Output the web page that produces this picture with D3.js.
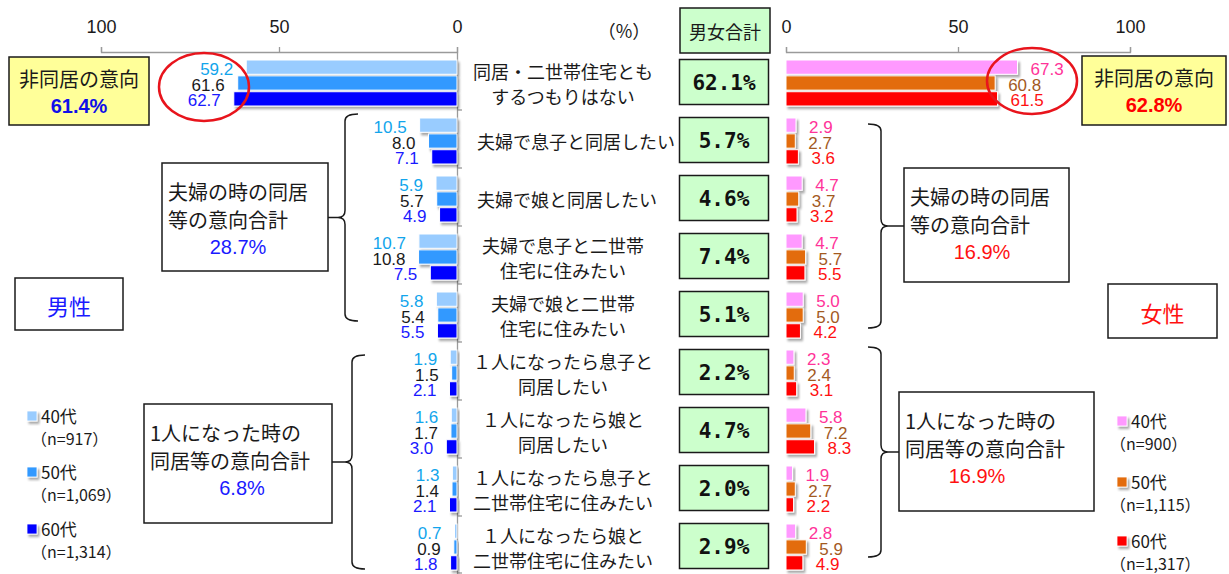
<!DOCTYPE html>
<html>
<head>
<meta charset="utf-8">
<script src="https://cdn.jsdelivr.net/npm/d3@7"></script>
<style>
  body { margin: 0; background: #fff; }
  svg { display: block; }
</style>
</head>
<body>
<svg id="chart" width="1229" height="574"></svg>
<script>
// Intention to live with children after retirement, by sex and age group (%)
const categories = [
  ["同居・二世帯住宅とも", "するつもりはない"],
  ["夫婦で息子と同居したい"],
  ["夫婦で娘と同居したい"],
  ["夫婦で息子と二世帯", "住宅に住みたい"],
  ["夫婦で娘と二世帯", "住宅に住みたい"],
  ["１人になったら息子と", "同居したい"],
  ["１人になったら娘と", "同居したい"],
  ["１人になったら息子と", "二世帯住宅に住みたい"],
  ["１人になったら娘と", "二世帯住宅に住みたい"]
];
const ageGroups = ["40代", "50代", "60代"];

const male40 = [59.2, 10.5, 5.9, 10.7, 5.8, 1.9, 1.6, 1.3, 0.7];
const male50 = [61.6, 8.0, 5.7, 10.8, 5.4, 1.5, 1.7, 1.4, 0.9];
const male60 = [62.7, 7.1, 4.9, 7.5, 5.5, 2.1, 3.0, 2.1, 1.8];

const female40 = [67.3, 2.9, 4.7, 4.7, 5.0, 2.3, 5.8, 1.9, 2.8];
const female50 = [60.8, 2.7, 3.7, 5.7, 5.0, 2.4, 7.2, 2.7, 5.9];
const female60 = [61.5, 3.6, 3.2, 5.5, 4.2, 3.1, 8.3, 2.2, 4.9];

const totalBoth = [62.1, 5.7, 4.6, 7.4, 5.1, 2.2, 4.7, 2.0, 2.9];

// group totals: non-coresidence, as a couple, when alone
const maleGroupTotals = [61.4, 28.7, 6.8];
const femaleGroupTotals = [62.8, 16.9, 16.9];

const maleSampleSizes = ["（n=917）", "（n=1,069）", "（n=1,314）"];
const femaleSampleSizes = ["（n=900）", "（n=1,115）", "（n=1,317）"];
const axisTicks = [0, 50, 100];

const maleBarColors = ["#99CCFF", "#3399FF", "#0000FF"];
const maleLabelColors = ["#12A5EC", "#1a1a1a", "#1a1aff"];
const femaleBarColors = ["#FF99FF", "#E36C0A", "#FF0000"];
const femaleLabelColors = ["#FF3399", "#A35A1F", "#FF1010"];

const JP = "'Noto Sans CJK JP', 'Noto Sans', sans-serif";
const NUM = "'Liberation Sans', Arial, sans-serif";

const svg = d3.select("#chart");

const defs = svg.append("defs");
defs.append("filter").attr("id", "barShadow")
  .attr("x", "-20%").attr("y", "-30%").attr("width", "160%").attr("height", "180%")
  .append("feDropShadow")
  .attr("dx", 2).attr("dy", 2.5).attr("stdDeviation", 1.3)
  .attr("flood-color", "#000").attr("flood-opacity", 0.35);

// scales
const xL = d3.scaleLinear().domain([0, 100]).range([457, 101]);
const xR = d3.scaleLinear().domain([0, 100]).range([786, 1130]);
const y = d3.scaleBand().domain(d3.range(categories.length)).range([52, 574]);
const sub = d3.scaleBand().domain(d3.range(ageGroups.length)).range([8, 54]).paddingInner(0.1);

// top axes
function styleAxis(g) {
  g.select(".domain").attr("stroke", "#9a9a9a").attr("stroke-width", 1.3);
  g.selectAll(".tick line").attr("stroke", "#9a9a9a").attr("stroke-width", 1.3);
  g.selectAll(".tick text").attr("font-family", NUM).attr("font-size", 18).attr("fill", "#1a1a1a");
}
svg.append("g").attr("transform", "translate(0,52)")
  .call(d3.axisTop(xL).tickValues(axisTicks).tickSize(5).tickSizeOuter(5).tickPadding(14).tickFormat(d3.format("d")))
  .call(styleAxis);
svg.append("g").attr("transform", "translate(0,52)")
  .call(d3.axisTop(xR).tickValues(axisTicks).tickSize(5).tickSizeOuter(5).tickPadding(14).tickFormat(d3.format("d")))
  .call(styleAxis);

// left category axis with boundary ticks
svg.append("line").attr("x1", xL(0) + 0.5).attr("x2", xL(0) + 0.5)
  .attr("y1", 52).attr("y2", 574).attr("stroke", "#9a9a9a").attr("stroke-width", 1.3);
svg.append("g").selectAll("line").data(d3.range(1, categories.length + 1)).join("line")
  .attr("x1", xL(0)).attr("x2", xL(0) + 5)
  .attr("y1", i => i < categories.length ? y(i) : 573)
  .attr("y2", i => i < categories.length ? y(i) : 573)
  .attr("stroke", "#9a9a9a").attr("stroke-width", 1.3);

// bars
const maleSeries = [male40, male50, male60];
const femaleSeries = [female40, female50, female60];

function drawSide(series, x, barColors, labelColors, isLeft) {
  series.forEach((vals, k) => {
    const g = svg.append("g");
    g.selectAll("rect").data(vals).join("rect")
      .attr("x", d => isLeft ? x(d) : x(0))
      .attr("y", (d, i) => y(i) + sub(k))
      .attr("width", d => Math.abs(x(d) - x(0)))
      .attr("height", sub.bandwidth())
      .attr("fill", barColors[k])
      .attr("stroke", "#fff").attr("stroke-width", 1)
      .attr("filter", "url(#barShadow)");
    g.selectAll("text").data(vals).join("text")
      .attr("x", d => isLeft ? x(d) - 13 : x(d) + 13)
      .attr("y", (d, i) => y(i) + sub(k) + sub.bandwidth() / 2 + 2)
      .attr("text-anchor", isLeft ? "end" : "start")
      .attr("dominant-baseline", "central")
      .attr("font-family", NUM).attr("font-size", 17)
      .attr("fill", labelColors[k])
      .text(d => d.toFixed(1));
  });
}
drawSide(maleSeries, xL, maleBarColors, maleLabelColors, true);
drawSide(femaleSeries, xR, femaleBarColors, femaleLabelColors, false);

// category labels
const catG = svg.append("g").attr("font-family", JP).attr("font-size", 18).attr("fill", "#1a1a1a");
categories.forEach((lines, i) => {
  const cy = y(i) + y.bandwidth() / 2 + 2;
  if (lines.length === 1) {
    catG.append("text").attr("x", 477).attr("y", cy).attr("dominant-baseline", "central").text(lines[0]);
  } else {
    lines.forEach((t, j) => {
      catG.append("text").attr("x", 563).attr("y", cy - 12.5 + 25 * j)
        .attr("text-anchor", "middle").attr("dominant-baseline", "central").text(t);
    });
  }
});

// "(%)" unit
svg.append("text").attr("x", 624).attr("y", 30).attr("text-anchor", "middle")
  .attr("dominant-baseline", "central").attr("font-family", JP).attr("font-size", 18)
  .attr("fill", "#1a1a1a").text("（%）");

// combined totals column
svg.append("rect").attr("x", 680).attr("y", 8).attr("width", 90).attr("height", 45)
  .attr("fill", "#CCFFCC").attr("stroke", "#1a1a1a").attr("stroke-width", 1.5);
svg.append("text").attr("x", 725).attr("y", 31).attr("text-anchor", "middle")
  .attr("dominant-baseline", "central").attr("font-family", JP).attr("font-size", 18)
  .attr("fill", "#1a1a1a").text("男女合計");

const totG = svg.append("g");
totG.selectAll("rect").data(totalBoth).join("rect")
  .attr("x", 679.5).attr("y", (d, i) => y(i) + y.bandwidth() / 2 + 1 - 22.5)
  .attr("width", 89).attr("height", 45)
  .attr("fill", "#CCFFCC").attr("stroke", "#1a1a1a").attr("stroke-width", 1.5);
totG.selectAll("text").data(totalBoth).join("text")
  .attr("x", 724).attr("y", (d, i) => y(i) + y.bandwidth() / 2 + 2)
  .attr("text-anchor", "middle").attr("dominant-baseline", "central")
  .attr("font-family", "'DejaVu Sans Mono', monospace").attr("font-weight", "bold")
  .attr("font-size", 21).attr("fill", "#111")
  .text(d => d.toFixed(1) + "%");

// yellow "non-coresidence" boxes
function yellowBox(x, yTop, w, h, value, color) {
  svg.append("rect").attr("x", x).attr("y", yTop).attr("width", w).attr("height", h)
    .attr("fill", "#FFFF99").attr("stroke", "#1a1a1a").attr("stroke-width", 1.5);
  svg.append("text").attr("x", x + w / 2).attr("y", yTop + 21).attr("text-anchor", "middle")
    .attr("dominant-baseline", "central").attr("font-family", JP).attr("font-size", 20)
    .attr("fill", "#1a1a1a").text("非同居の意向");
  svg.append("text").attr("x", x + w / 2).attr("y", yTop + 49).attr("text-anchor", "middle")
    .attr("dominant-baseline", "central").attr("font-family", NUM).attr("font-weight", "bold")
    .attr("font-size", 20).attr("fill", color).text(value.toFixed(1) + "%");
}
yellowBox(9, 57, 140, 68, maleGroupTotals[0], "#1010e8");
yellowBox(1082, 56, 144, 69, femaleGroupTotals[0], "#ff0000");

// group summary boxes
function groupBox(x, yTop, w, h, lines, value, color, valueX) {
  svg.append("rect").attr("x", x).attr("y", yTop).attr("width", w).attr("height", h)
    .attr("fill", "#fff").attr("stroke", "#1a1a1a").attr("stroke-width", 1.5);
  lines.forEach((t, j) => {
    svg.append("text").attr("x", x + 6).attr("y", yTop + 28 + 28.5 * j)
      .attr("dominant-baseline", "central").attr("font-family", JP).attr("font-size", 20)
      .attr("fill", "#1a1a1a").text(t);
  });
  svg.append("text").attr("x", valueX).attr("y", yTop + 28 + 28.5 * 2 - 1)
    .attr("text-anchor", "middle").attr("dominant-baseline", "central")
    .attr("font-family", NUM).attr("font-size", 20).attr("fill", color)
    .text(value.toFixed(1) + "%");
}
groupBox(162, 163, 166, 108, ["夫婦の時の同居", "等の意向合計"], maleGroupTotals[1], "#1a1aff", 238);
groupBox(144, 404, 188, 119, ["1人になった時の", "同居等の意向合計"], maleGroupTotals[2], "#1a1aff", 242);
groupBox(904, 168, 165, 114, ["夫婦の時の同居", "等の意向合計"], femaleGroupTotals[1], "#ff1010", 982);
groupBox(899, 392, 195, 119, ["1人になった時の", "同居等の意向合計"], femaleGroupTotals[2], "#ff1010", 977);

// braces linking categories to their group boxes
function brace(x, y0, y1, dir, boxEdge) {
  const r = 7, w = 13, ym = (y0 + y1) / 2;
  const xe = x - dir * w;
  const p = `M${xe},${y0} Q${x},${y0} ${x},${y0 + r} L${x},${ym - r} Q${x},${ym} ${x + dir * r},${ym} ` +
            `Q${x},${ym} ${x},${ym + r} L${x},${y1 - r} Q${x},${y1} ${xe},${y1}`;
  svg.append("path").attr("d", p).attr("fill", "none").attr("stroke", "#1a1a1a").attr("stroke-width", 1.5);
  svg.append("line").attr("x1", x + dir * r).attr("x2", boxEdge).attr("y1", ym).attr("y2", ym)
    .attr("stroke", "#1a1a1a").attr("stroke-width", 1.5);
}
brace(345, 114, 321, -1, 328);
brace(352, 355, 569, -1, 332);
brace(881, 124, 328, 1, 904);
brace(881, 347, 557, 1, 899);

// sex labels
function sexBox(x, yTop, w, h, label, color) {
  svg.append("rect").attr("x", x).attr("y", yTop).attr("width", w).attr("height", h)
    .attr("fill", "#fff").attr("stroke", "#1a1a1a").attr("stroke-width", 1.5);
  svg.append("text").attr("x", x + w / 2).attr("y", yTop + h / 2 + 1).attr("text-anchor", "middle")
    .attr("dominant-baseline", "central").attr("font-family", JP).attr("font-size", 22)
    .attr("fill", color).text(label);
}
sexBox(15, 278, 108, 52, "男性", "#1a1aff");
sexBox(1108, 284, 109, 54, "女性", "#ff1010");

// legends
function legend(x, tops, colors, sizes, parenX) {
  ageGroups.forEach((a, k) => {
    const t = tops[k];
    svg.append("rect").attr("x", x).attr("y", t).attr("width", 10).attr("height", 10)
      .attr("fill", colors[k]).attr("stroke", "#fff").attr("stroke-width", 0.8)
      .attr("filter", "url(#barShadow)");
    svg.append("text").attr("x", x + 14).attr("y", t + 4).attr("dominant-baseline", "central")
      .attr("font-family", JP).attr("font-size", 17).attr("fill", "#1a1a1a").text(a);
    svg.append("text").attr("x", parenX).attr("y", t + 27).attr("dominant-baseline", "central")
      .attr("font-family", JP).attr("font-size", 16).attr("fill", "#1a1a1a").text(sizes[k]);
  });
}
legend(27, [411, 467, 524], maleBarColors, maleSampleSizes, 31);
legend(1117, [416, 477, 536], femaleBarColors, femaleSampleSizes, 1110);

// highlight rings around the non-coresidence bars
svg.append("ellipse").attr("cx", 204).attr("cy", 87).attr("rx", 45).attr("ry", 34)
  .attr("fill", "none").attr("stroke", "#e8141c").attr("stroke-width", 2.5);
svg.append("ellipse").attr("cx", 1032).attr("cy", 81).attr("rx", 45).attr("ry", 33)
  .attr("fill", "none").attr("stroke", "#e8141c").attr("stroke-width", 2.5);
</script>
</body>
</html>
